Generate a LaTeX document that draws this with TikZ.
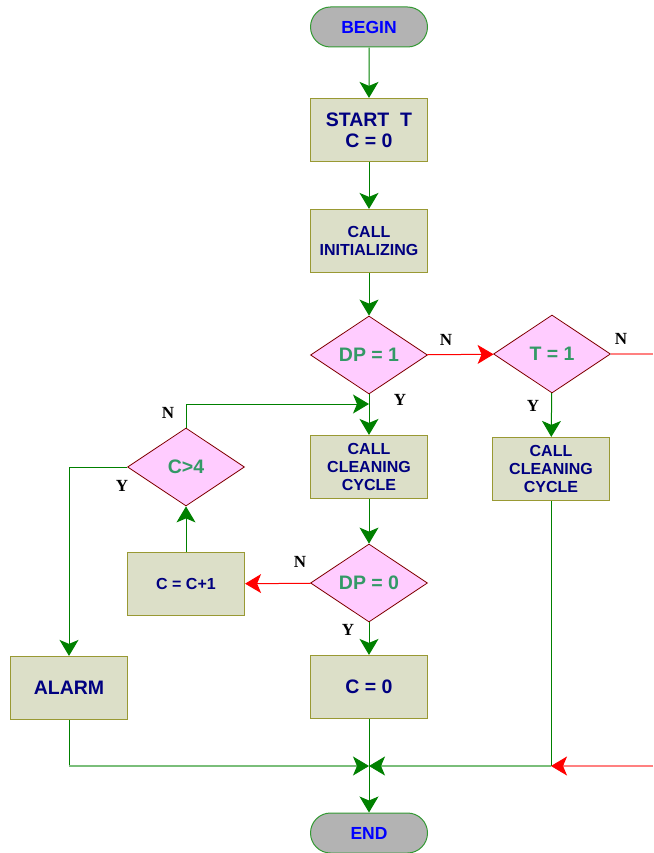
\documentclass[tikz,border=0pt]{standalone}
\usepackage{fontspec}
\setmainfont{Liberation Serif}
\newfontfamily\arialfont{Liberation Sans}
\usepackage{xcolor}
\usepackage{tikz}
\usetikzlibrary{arrows.meta,positioning,shapes.geometric,shapes.misc}
\definecolor{boxFill}{RGB}{220,223,200}
\definecolor{boxLine}{RGB}{153,153,51}
\definecolor{boxText}{RGB}{0,0,128}
\definecolor{decFill}{RGB}{255,204,255}
\definecolor{decLine}{RGB}{128,0,0}
\definecolor{decText}{RGB}{51,153,102}
\definecolor{termFill}{RGB}{179,179,179}
\definecolor{termLine}{RGB}{51,153,51}
\definecolor{termText}{RGB}{0,0,255}
\definecolor{flowGreen}{RGB}{0,128,0}
\definecolor{flowGreenLight}{RGB}{122,190,122}
\definecolor{flowRed}{RGB}{255,0,0}
\definecolor{flowRedLight}{RGB}{255,128,128}

\begin{document}
\begin{tikzpicture}[x=1pt,y=-1pt,
  terminal/.style={rounded rectangle, draw=termLine, line width=1pt, fill=termFill,
    minimum width=117pt, minimum height=40pt, inner sep=0pt,
    text=termText, font=\arialfont\bfseries\fontsize{17.5}{20}\selectfont},
  procbox/.style={rectangle, draw=boxLine, line width=1.2pt, fill=boxFill,
    minimum width=117pt, minimum height=63pt, inner sep=0pt, align=center,
    text=boxText, font=\arialfont\bfseries\fontsize{19.5}{21}\selectfont},
  callbox/.style={procbox, font=\arialfont\bfseries\fontsize{16}{18}\selectfont},
  decision/.style={diamond, draw=decLine, line width=0.8pt, fill=decFill,
    minimum width=117pt, minimum height=78pt, inner sep=0pt, aspect=1.5,
    text=decText, font=\arialfont\bfseries\fontsize{19.5}{21}\selectfont},
  answer/.style={font=\bfseries\fontsize{17}{19}\selectfont, inner sep=0pt},
  flow/.style={draw=flowGreen, line width=1pt,
    -{Stealth[length=16pt,width=19pt,inset=4pt,color=flowGreen]}},
  flowplain/.style={draw=flowGreen, line width=1pt},
  flowlight/.style={draw=flowGreenLight, line width=2pt,
    -{Stealth[length=16pt,width=19pt,inset=4pt,color=flowGreen,line width=0.8pt]}},
  noflow/.style={draw=flowRed, line width=1pt,
    -{Stealth[length=16pt,width=19pt,inset=4pt,color=flowRed]}},
  noflowlight/.style={draw=flowRedLight, line width=1.6pt},
  noflowtip/.style={noflowlight,
    -{Stealth[length=16pt,width=19pt,inset=4pt,color=flowRed,line width=0.8pt]}}]
\useasboundingbox (0,0) rectangle (653,853);

% main column
\node[terminal] (begin) at (369,27) {BEGIN};
\node[procbox] (start) at (369,130) {START\ \ T\\C = 0};
\node[callbox] (init) at (369,241) {CALL\\INITIALIZING};
\node[decision] (dp1) at (369,355) {DP = 1};
\node[callbox] (clean1) at (369,467) {CALL\\CLEANING\\CYCLE};
\node[decision] (dp0) at (369,583) {DP = 0};
\node[procbox] (czero) at (369,687) {C = 0};
\node[terminal] (end) at (369,833) {END};

% right column
\node[decision] (t1) at (552,354) {T = 1};
\node[callbox] (clean2) at (551,469) {CALL\\CLEANING\\CYCLE};

% left column
\node[decision] (c4) at (186,467) {C>4};
\node[callbox] (cinc) at (186,584) {C = C+1};
\node[procbox] (alarm) at (69,688) {ALARM};

\coordinate (join1) at (369,404);
\coordinate (t1out) at (653,354);
\coordinate (merge) at (369,766);
\coordinate (merge2) at (551,766);
\coordinate (rightin) at (653,766);
\coordinate (corner) at (alarm.south |- merge);

% labels
\node[answer] (dp1n) at (446,340) {N};
\node[answer] (dp1y) at (400,400) {Y};
\node[answer] (t1n) at (621,339) {N};
\node[answer] (t1y) at (533,406) {Y};
\node[answer] (c4n) at (168,413) {N};
\node[answer] (c4y) at (122,486) {Y};
\node[answer] (dp0n) at (300,562) {N};
\node[answer] (dp0y) at (348,630) {Y};

% connectors
\draw[flow] (begin) -- (start);
\draw[flow] (start) -- (init);
\draw[flow] (init) -- (dp1);
\draw[flow] (dp1) -- (clean1);
\draw[flow] (clean1) -- (dp0);
\draw[flow] (dp0) -- (czero);
\draw[flow] (czero) -- (end);
\draw[noflow] (dp1) -- (t1);
\draw[noflowlight] (t1) -- (t1out);
\draw[flow] (t1) -- (clean2);
\draw[noflow] (dp0) -- (cinc);
\draw[flow] (cinc) -- (c4);
\draw[flow] (c4.north) |- (join1);
\draw[flow] (c4.west) -| (alarm.north);
\draw[flowplain] (clean2) -- (merge2);
\draw[flowplain] (alarm.south) -- (corner);
\draw[flowlight] (corner) -- (merge);
\draw[noflowtip] (rightin) -- (merge2);
\draw[flowlight] (merge2) -- (merge);
\end{tikzpicture}
\end{document}
